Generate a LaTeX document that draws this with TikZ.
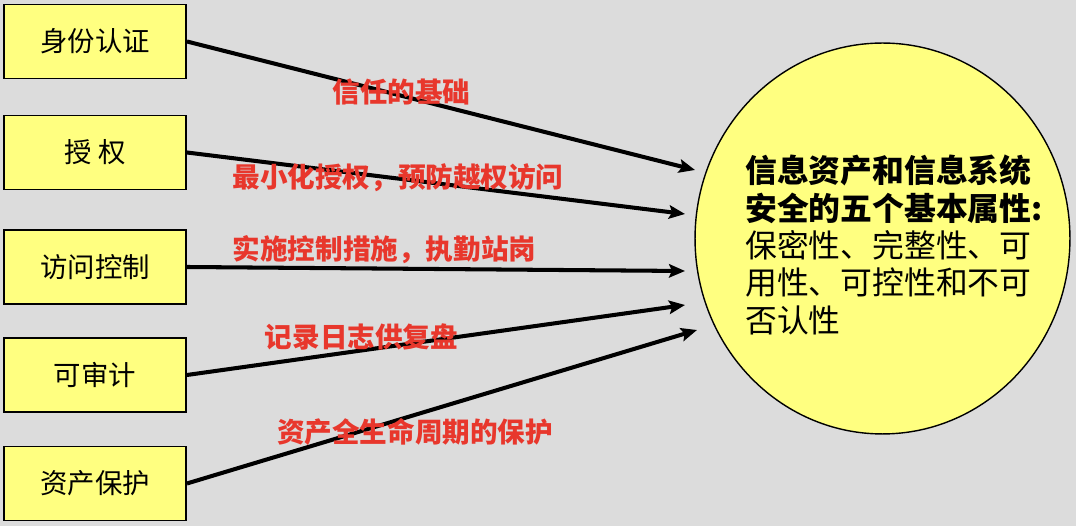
\documentclass[tikz,border=0pt]{standalone}
\usepackage{fontspec}
\setmainfont{Noto Sans CJK SC}
\usetikzlibrary{shapes.geometric,arrows.meta}
\definecolor{bggray}{HTML}{DCDCDC}
\definecolor{boxyellow}{HTML}{FFFF80}
\definecolor{lblred}{HTML}{E8372C}
\begin{document}
\begin{tikzpicture}[x=0.02cm, y=-0.02cm,
  prop/.style={draw,line width=1.1pt,fill=boxyellow,minimum width=3.64cm,minimum height=1.48cm,font=\fontsize{15.6}{18}\selectfont},
  lbl/.style={text=lblred,inner sep=0pt,font=\fontsize{15.7}{18}\selectfont\bfseries},
  arr/.style={-{Stealth[length=0.32cm,width=0.27cm,inset=0.06cm]},line width=2.3pt}]
\useasboundingbox[fill=bggray] (0,0) rectangle (1076,526);
% five properties
\node[prop] (auth) at (95,41.5) {身份认证};
\node[prop] (perm) at (95,152.5) {授 权};
\node[prop] (acc) at (95,267) {访问控制};
\node[prop] (audit) at (95,375) {可审计};
\node[prop] (asset) at (95,483.5) {资产保护};
% goal
\node[ellipse,draw,line width=0.8pt,fill=boxyellow,minimum width=7.5cm,minimum height=7.82cm,inner sep=0pt] (goal) at (882.5,238.5) {};
\node[anchor=west,align=left,inner sep=0pt,font=\fontsize{18.1}{21.3}\selectfont] (attr) at (745,245)
  {{\bfseries 信息资产和信息系统}\\{\bfseries 安全的五个基本属性:}\\保密性、完整性、可\\用性、可控性和不可\\否认性};
\coordinate (t1) at (695,170);
\coordinate (t2) at (685,214);
\coordinate (t3) at (685,271);
\coordinate (t4) at (685,305);
\coordinate (t5) at (697,330);
\draw[arr] (auth.east) -- (t1);
\draw[arr] (perm.east) -- (t2);
\draw[arr] (acc.east) -- (t3);
\draw[arr] (audit.east) -- (t4);
\draw[arr] (asset.east) -- (t5);
% red labels
\node[lbl] (l1) at (401.5,92) {信任的基础};
\node[lbl] (l2) at (398,178) {最小化授权，预防越权访问};
\node[lbl] (l3) at (384.5,250) {实施控制措施，执勤站岗};
\node[lbl] (l4) at (361.5,337) {记录日志供复盘};
\node[lbl] (l5) at (415,432) {资产全生命周期的保护};
\end{tikzpicture}
\end{document}
